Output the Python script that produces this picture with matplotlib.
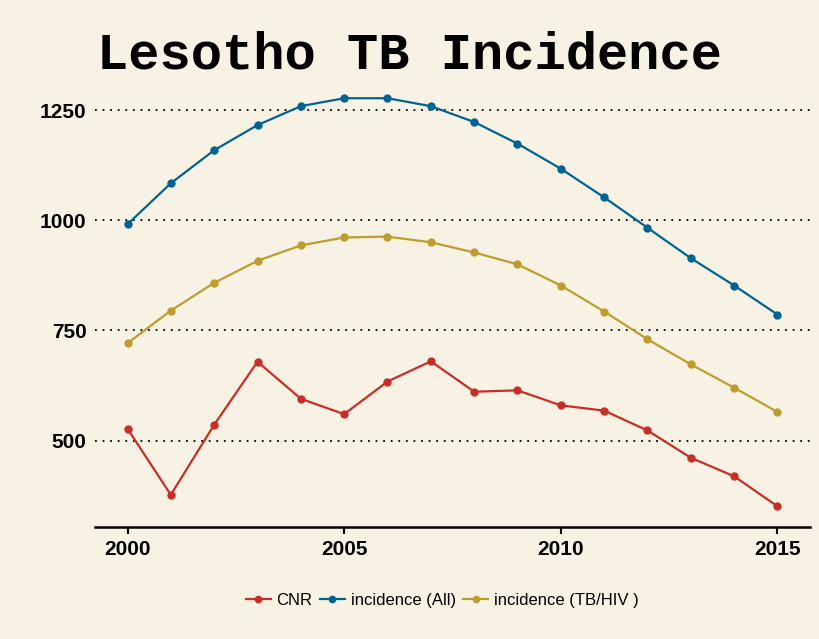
import matplotlib
matplotlib.use('Agg')
import matplotlib.pyplot as plt

years = list(range(2000, 2016))
cnr = [527, 377, 536, 679, 595, 560, 634, 680, 611, 614, 580, 568, 523, 461, 419, 351]
inc_all = [991, 1084, 1159, 1216, 1259, 1277, 1277, 1259, 1223, 1174, 1117, 1052, 983, 914, 852, 786]
inc_tbhiv = [721, 795, 858, 908, 943, 961, 963, 950, 927, 900, 852, 793, 730, 673, 620, 565]

series_names = ['CNR', 'incidence (All)', 'incidence (TB/HIV )']
colors = ['#c72e29', '#016392', '#be9c2e']
bg = '#f8f2e4'

fig = plt.figure(figsize=(8.19, 6.39), dpi=100, facecolor=bg)
ax = fig.add_axes([0.116, 0.176, 0.873, 0.702], facecolor=bg)

for vals, name, c in zip([cnr, inc_all, inc_tbhiv], series_names, colors):
    ax.plot(years, vals, color=c, lw=1.6, marker='o', ms=5, label=name)

ax.set_xlim(1999.25, 2015.75)
ax.set_ylim(305, 1323)
ax.set_xticks([2000, 2005, 2010, 2015])
ax.set_yticks([500, 750, 1000, 1250])
ax.yaxis.grid(True, color='black', linestyle=(0, (1, 3.2)), lw=1.3)
ax.set_axisbelow(True)

for s in ['top', 'right', 'left']:
    ax.spines[s].set_visible(False)
ax.spines['bottom'].set_linewidth(1.8)
ax.tick_params(axis='y', length=0, pad=6)
ax.tick_params(axis='x', length=5, width=1.5, direction='out', pad=5)
for lab in ax.get_xticklabels() + ax.get_yticklabels():
    lab.set_fontfamily('Liberation Sans')
    lab.set_fontweight('bold')
    lab.set_fontsize(15)

fig.text(0.118, 0.893, 'Lesotho TB Incidence', fontfamily='Liberation Mono',
         fontweight='bold', fontsize=37.5, va='baseline', ha='left')

leg = fig.legend(loc='center', bbox_to_anchor=(0.54, 0.061), ncol=3,
                 frameon=False, handlelength=1.5, handletextpad=0.35,
                 columnspacing=0.45, prop={'family': 'Liberation Sans', 'size': 12})
for h in leg.legend_handles:
    h.set_markersize(4.5)

fig.savefig('out.png', dpi=100, facecolor=bg)
